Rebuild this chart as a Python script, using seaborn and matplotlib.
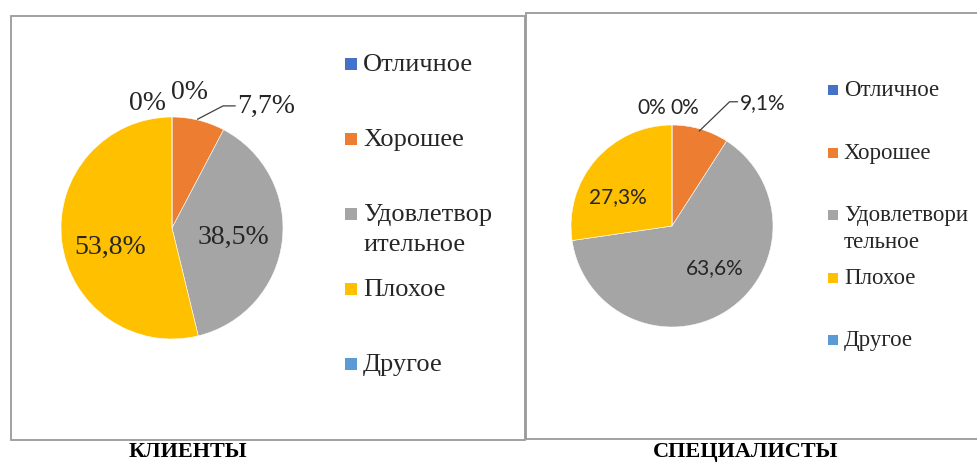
import matplotlib
matplotlib.use("Agg")
import matplotlib.pyplot as plt
import seaborn as sns
from matplotlib.patches import Rectangle

# ---- data ----
categories = ["Отличное", "Хорошее", "Удовлетворительное", "Плохое", "Другое"]
clients = [0, 7.7, 38.5, 53.8, 0]
specialists = [0, 9.1, 63.6, 27.3, 0]
legend_left = ["Отличное", "Хорошее", "Удовлетвор\nительное", "Плохое", "Другое"]
legend_right = ["Отличное", "Хорошее", "Удовлетвори\nтельное", "Плохое", "Другое"]
titles = ["КЛИЕНТЫ", "СПЕЦИАЛИСТЫ"]

colors = ["#4472C4", "#ED7D31", "#A5A5A5", "#FFC000", "#5B9BD5"]

sns.set_theme(style="white")
W, H = 978, 464
fig = plt.figure(figsize=(W / 100, H / 100), dpi=100)
fig.patch.set_facecolor("white")


def px_box(x, y, w, h):
    # pixel box (top-left origin) -> figure fraction
    return [x / W, 1 - (y + h) / H, w / W, h / H]


def fmt(v):
    if v == 0:
        return "0%"
    return f"{v:.1f}%".replace(".", ",")


# outer frames
fig.add_artist(Rectangle((10.5 / W, 1 - 441 / H), (525 - 10.5) / W, (441 - 16.5) / H,
                         transform=fig.transFigure, fill=False, ec="#9a9a9a", lw=1.3))
fig.add_artist(Rectangle((526 / W, 1 - 440 / H), (990 - 526) / W, (440 - 13.5) / H,
                         transform=fig.transFigure, fill=False, ec="#9a9a9a", lw=1.3))

L = 1.5
charts = [
    dict(vals=clients, cx=172, cy=229, r=111, leg=legend_left, font="Liberation Serif",
         fs=20, leg_fs=19, leg_x=345, leg_y0=65, leg_step=75, sq=12, line_h=30,
         # label positions in radius units, index matches categories
         lab=[(0.16, 1.23), None, (0.55, -0.08), (-0.56, -0.17), (-0.225, 1.135)],
         lead_from=(0.23, 0.98), lead_knee=(0.46, 1.10), lead_text=(0.57, 1.10),
         title_x=188),
    dict(vals=specialists, cx=672, cy=227, r=101, leg=legend_right, font="Lato",
         fs=15, leg_fs=16.5, leg_x=828, leg_y0=91, leg_step=62.5, sq=10, line_h=27,
         lab=[(0.13, 1.18), None, (0.42, -0.41), (-0.54, 0.30), (-0.20, 1.18)],
         lead_from=(0.27, 0.94), lead_knee=(0.57, 1.23), lead_text=(0.65, 1.23),
         title_x=746),
]

for i, c in enumerate(charts):
    size = 2 * L * c["r"]
    ax = fig.add_axes(px_box(c["cx"] - size / 2, c["cy"] - size / 2, size, size))
    ax.pie(c["vals"], colors=colors, startangle=90, counterclock=False,
           wedgeprops=dict(edgecolor="white", linewidth=0.4))
    ax.set_xlim(-L, L)
    ax.set_ylim(-L, L)
    ax.set_aspect("equal")
    ax.axis("off")

    for j, v in enumerate(c["vals"]):
        if c["lab"][j] is None:
            continue
        x, y = c["lab"][j]
        ax.text(x, y, fmt(v), ha="center", va="center", fontsize=c["fs"],
                family=c["font"], color="#262626")

    # leader-line label for "Хорошее"
    fx, fy = c["lead_from"]
    kx, ky = c["lead_knee"]
    tx, ty = c["lead_text"]
    ax.plot([fx, kx, tx], [fy, ky, ty], color="#404040", lw=0.9, clip_on=False)
    ax.text(tx + 0.02, ty, fmt(c["vals"][1]), ha="left", va="center",
            fontsize=c["fs"], family=c["font"], color="#262626")

    # legend (Excel-style: fixed slots, wrapped text runs down)
    for j, lab in enumerate(c["leg"]):
        yy = c["leg_y0"] + j * c["leg_step"]
        s = c["sq"]
        fig.add_artist(Rectangle((c["leg_x"] / W, 1 - (yy + s / 2) / H), s / W, s / H,
                                 transform=fig.transFigure, fc=colors[j], ec="none"))
        for k, part in enumerate(lab.split("\n")):
            fig.text((c["leg_x"] + s + 6) / W, 1 - (yy + k * c["line_h"]) / H, part,
                     ha="left", va="center", fontsize=c["leg_fs"],
                     family="Liberation Serif", color="#262626")

    fig.text(c["title_x"] / W, 1 - 452 / H, titles[i], ha="center", va="center",
             fontsize=16, family="Liberation Serif", weight="bold", color="black")

fig.savefig("out.png", dpi=100)
